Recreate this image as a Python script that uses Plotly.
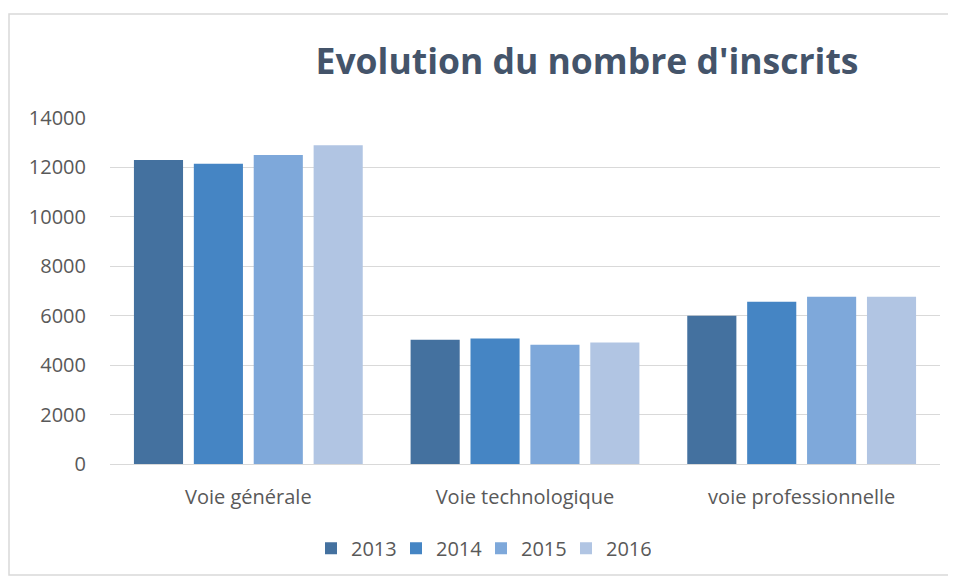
import plotly.graph_objects as go

# data
categories = ["Voie générale", "Voie technologique", "voie professionnelle"]
years = ["2013", "2014", "2015", "2016"]
v2013 = [12300, 5030, 6000]
v2014 = [12150, 5080, 6570]
v2015 = [12500, 4830, 6770]
v2016 = [12900, 4920, 6770]
y_ticks = [0, 2000, 4000, 6000, 8000, 10000, 12000, 14000]

series = [v2013, v2014, v2015, v2016]
colors = ["#44719f", "#4585c4", "#7ea8da", "#b1c5e3"]

font = "Open Sans, Lato, sans-serif"
text_col = "#595959"

# the page body adds 8px around the figure, so the figure is 8px smaller
W, H = 948, 572
L, R, T, B = 102, 16, 110, 113
pw, ph = W - L - R, H - T - B

fig = go.Figure()
for year, vals, col in zip(years, series, colors):
    fig.add_trace(go.Bar(x=categories, y=vals, name=year, marker=dict(color=col, line=dict(width=0))))

fig.update_layout(
    width=W,
    height=H,
    margin=dict(l=L, r=R, t=T, b=B),
    paper_bgcolor="white",
    plot_bgcolor="white",
    barmode="group",
    bargap=0.134,
    bargroupgap=0.18,
    font=dict(family=font, size=20, color=text_col),
    title=dict(
        text="<b>Evolution du nombre d'inscrits</b>",
        x=579 / W, xanchor="center", xref="container",
        y=1 - 54 / H, yanchor="middle", yref="container",
        font=dict(family=font, size=35.5, color="#44546a"),
    ),
    legend=dict(
        orientation="h", x=(473 - L) / pw, xanchor="center", y=(ph - 434) / ph, yanchor="middle",
        font=dict(size=20, color=text_col), itemwidth=30, traceorder="normal",
        entrywidth=40, entrywidthmode="pixels",
    ),
    showlegend=True,
)
fig.update_xaxes(showgrid=False, showline=False, ticks="", ticklabelstandoff=19)
fig.update_yaxes(
    range=[0, 14000], tickvals=y_ticks, ticktext=[str(v) for v in y_ticks],
    showgrid=True, gridcolor="#d9d9d9",
    gridwidth=1, zeroline=True, zerolinecolor="#d9d9d9", zerolinewidth=1,
    ticks="", ticklabelstandoff=23, showline=False,
)

# light border around the chart area
fig.add_shape(
    type="rect", xref="paper", yref="paper",
    x0=(1 - L) / pw, x1=(W - 2 - L) / pw,
    y0=(T + ph - (H - 1)) / ph, y1=(T + ph - 5) / ph,
    line=dict(color="#d9d9d9", width=1.5), fillcolor="rgba(0,0,0,0)", layer="below",
)

fig.write_html("out.html")
